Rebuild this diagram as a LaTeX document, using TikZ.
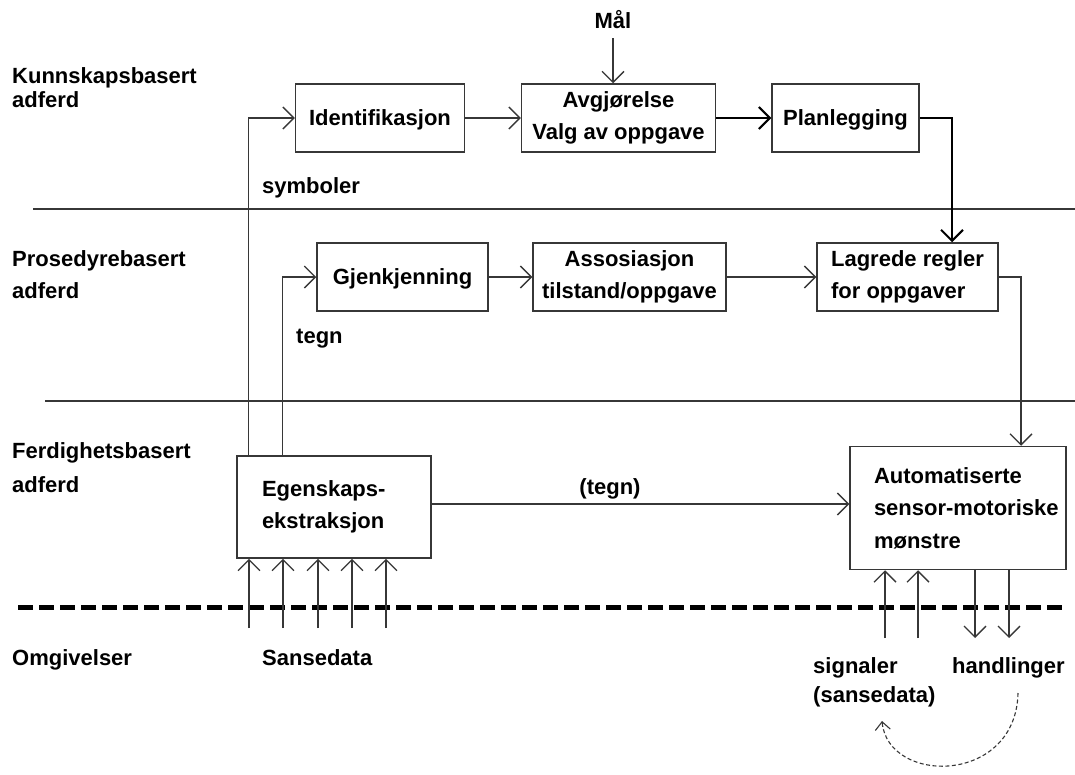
\documentclass[tikz,border=0pt]{standalone}
\usepackage{fontspec}
\setmainfont{Liberation Sans}
\usetikzlibrary{arrows.meta}
\definecolor{linegray}{RGB}{55,55,55}
\begin{document}
\begin{tikzpicture}[x=1pt,y=-1pt,
  txt/.style={font=\fontsize{22}{32.5}\selectfont\bfseries, text=black, inner sep=0pt},
  lbl/.style={txt, anchor=base west},
  box/.style={draw=linegray, line width=1.5pt, txt},
  onebox/.style={box, text depth=0pt},
  tip/.style={-{Straight Barb[length=11pt,width=22pt]}},
  conn/.style={draw=linegray, line width=1.3pt, tip},
  heavy/.style={draw=black, line width=2pt, tip},
  divider/.style={draw=linegray, line width=1.3pt},
]
\fill[white] (0,0) rectangle (1075,774);
\useasboundingbox (0,0) rectangle (1075,774);

% level dividers and the environment boundary
\draw[divider] (33,209) -- (1075,209);
\draw[divider] (45,401) -- (1075,401);
\draw[black, line width=5pt, dash pattern=on 15pt off 6pt] (18,607) -- (1066,607);

% level labels
\node[lbl] (k1) at (12,83) {Kunnskapsbasert};
\node[lbl] (k2) at (12,107) {adferd};
\node[lbl] (p1) at (12,266) {Prosedyrebasert};
\node[lbl] (p2) at (12,298) {adferd};
\node[lbl] (f1) at (12,458) {Ferdighetsbasert};
\node[lbl] (f2) at (12,492) {adferd};
\node[lbl] (omg) at (12,665) {Omgivelser};

% knowledge level
\node[onebox, minimum width=169pt, minimum height=68pt] (ident) at (380,118) {Identifikasjon};
\node[box, minimum width=194pt, minimum height=68pt, align=center] (avg) at (618.5,118) {Avgjørelse\\Valg av oppgave};
\node[onebox, minimum width=147pt, minimum height=68pt] (plan) at (845.5,118) {Planlegging};
\node[txt, anchor=base] (maal) at (613,28) {Mål};

% rule level
\node[onebox, minimum width=171pt, minimum height=68pt] (gjenk) at (402.5,277) {Gjenkjenning};
\node[box, minimum width=193pt, minimum height=68pt, align=center] (asso) at (629.5,277) {Assosiasjon\\tilstand/oppgave};
\node[box, minimum width=181pt, minimum height=68pt, align=left] (lagr) at (907.5,277) {Lagrede regler\\for oppgaver};

% skill level
\node[box, minimum width=194pt, minimum height=102pt, align=left, text width=144pt] (egen) at (334,507) {Egenskaps-\\ekstraksjon};
\node[box, minimum width=216pt, minimum height=123pt, align=left, text width=168pt] (auto) at (958,508) {Automatiserte\\\mbox{sensor-motoriske}\\mønstre};

% connector labels
\node[lbl] (symb) at (262,193) {symboler};
\node[lbl] (tegn) at (296,343) {tegn};
\node[txt, anchor=base] (tegn2) at (610,494) {(tegn)};
\node[lbl] (sans) at (262,665) {Sansedata};
\node[lbl] (sig) at (813,673) {signaler};
\node[lbl] (sig2) at (813,702) {(sansedata)};
\node[lbl] (handl) at (952,673) {handlinger};

% free ends of the sensor and action arrows
\foreach \i/\x in {1/249,2/283,3/318,4/352,5/386} \coordinate (s\i) at (\x,628);
\coordinate (u1) at (885,638);
\coordinate (u2) at (918,638);
\coordinate (d1) at (975,638);
\coordinate (d2) at (1009,638);
\coordinate (loopA) at (1018,693);
\coordinate (loopB) at (882,721);

% connectors
\draw[conn] ([xshift=12pt]egen.north west) |- (ident.west);
\draw[conn] ([xshift=46pt]egen.north west) |- (gjenk.west);
\draw[conn] (ident.east) -- (avg.west);
\draw[heavy] (avg.east) -- (plan.west);
\draw[heavy] (plan.east) -| ([xshift=44.5pt]lagr.north);
\draw[conn, shorten <=10pt] (maal.base) -- (maal.base |- avg.north);
\draw[conn] (gjenk.east) -- (asso.west);
\draw[conn] (asso.east) -- (lagr.west);
\draw[conn] (lagr.east) -| ([xshift=63pt]auto.north);
\draw[conn] ([yshift=3pt]egen.east) -- ([yshift=3pt]egen.east -| auto.west);
\foreach \i in {1,...,5} \draw[conn] (s\i) -- (s\i |- egen.south);
\draw[conn] (u1) -- (u1 |- auto.south);
\draw[conn] (u2) -- (u2 |- auto.south);
\draw[conn] (d1 |- auto.south) -- (d1);
\draw[conn] (d2 |- auto.south) -- (d2);

% feedback from actions to signals through the environment
\draw[draw=linegray, line width=1.1pt, dash pattern=on 4pt off 2.5pt,
      -{Straight Barb[length=8pt,width=15pt]}]
  (loopA) .. controls (1016,785) and (888,785) .. (loopB);
\end{tikzpicture}
\end{document}
